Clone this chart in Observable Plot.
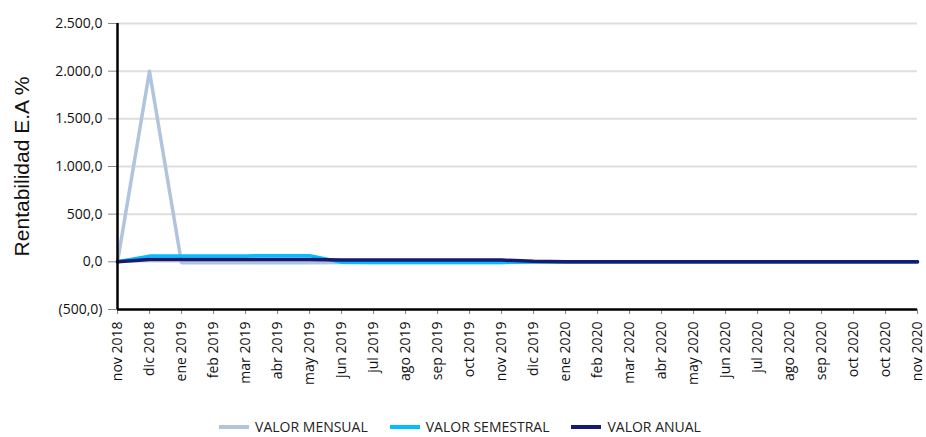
<!DOCTYPE html>
<html>
<head>
<meta charset="utf-8">
<script src="https://cdn.jsdelivr.net/npm/d3@7"></script>
<script src="https://cdn.jsdelivr.net/npm/@observablehq/plot@0.6"></script>
<style>
  body { margin: 0; background: #fff; font-family: "Open Sans", sans-serif; position: relative; width: 926px; height: 437px; }
  #legend { position: absolute; left: 0; width: 920px; top: 419px; display: flex; justify-content: center; gap: 22px; font-size: 14px; line-height: 16px; color: #222; }
  #legend .item { display: flex; align-items: center; gap: 6px; }
  #legend .sw { width: 30px; height: 4px; display: inline-block; }
</style>
</head>
<body>
<div id="chart"></div>
<div id="legend"></div>
<script>
const labels = ["nov 2018","dic 2018","ene 2019","feb 2019","mar 2019","abr 2019","may 2019","jun 2019","jul 2019","ago 2019","sep 2019","oct 2019","nov 2019","dic 2019","ene 2020","feb 2020","mar 2020","abr 2020","may 2020","jun 2020","jul 2020","ago 2020","sep 2020","oct 2020","oct 2020","nov 2020"];
const mensual   = [0, 2000, -10, -10, -10, -10, -10, -6, -6, -6, -6, -6, -6, -4, -3, -3, -3, -3, -3, -3, -3, -3, -3, -3, -3, -3];
const semestral = [0, 60, 62, 62, 62, 64, 65, -5, -6, -6, -6, -6, -6, -3, -2, -2, -2, -2, -2, -2, -2, -2, -2, -2, -2, -2];
const anual     = [0, 25, 25, 25, 25, 25, 25, 20, 20, 20, 20, 20, 18, 5, 0, 0, 0, 0, 0, 0, 0, 0, 0, 0, 0, 0];
const yTicks = [-500, 0, 500, 1000, 1500, 2000, 2500];
const seriesNames = ["VALOR MENSUAL", "VALOR SEMESTRAL", "VALOR ANUAL"];
const seriesColors = ["#b0c4de", "#00bfff", "#191970"];

const loc = d3.formatLocale({decimal: ",", thousands: ".", grouping: [3], currency: ["", ""]});
const f = loc.format(",.1f");
const yFmt = d => d < 0 ? `(${f(-d)})` : f(d);

const idx = d3.range(labels.length);
const seriesData = [mensual, semestral, anual];

const plot = Plot.plot({
  width: 926,
  height: 410,
  marginLeft: 117,
  marginRight: 9,
  marginTop: 23,
  marginBottom: 101,
  style: {fontFamily: "'Open Sans', sans-serif", fontSize: "14px", color: "#111", background: "#fff"},
  x: {type: "point", domain: idx, padding: 0},
  y: {domain: [-500, 2500]},
  marks: [
    Plot.ruleY(yTicks.filter(t => t > -500), {stroke: "#dedede", strokeWidth: 2}),
    Plot.axisY({ticks: yTicks, tickFormat: yFmt, tickSize: 9, tickPadding: 6, stroke: "#888", label: null, fontSize: 14}),
    Plot.axisX({tickFormat: i => labels[i], tickRotate: -90, tickSize: 5, tickPadding: 7, stroke: "#888", label: null, fontSize: 14}),
    ...seriesData.map((vals, k) => Plot.lineY(vals, {x: (d, i) => i, y: d => d, stroke: seriesColors[k], strokeWidth: 3.5})),
    Plot.ruleX([0], {stroke: "#000", strokeWidth: 2.5}),
    Plot.ruleY([-500], {stroke: "#000", strokeWidth: 2.5}),
    Plot.text(["Rentabilidad E.A %"], {frameAnchor: "left", dx: -95, rotate: -90, textAnchor: "middle", lineAnchor: "middle", fontSize: 21, fontFamily: "'Liberation Sans', Arial, sans-serif", fill: "#111"})
  ]
});
document.getElementById("chart").appendChild(plot);

const legend = document.getElementById("legend");
seriesNames.forEach((name, k) => {
  const item = document.createElement("div");
  item.className = "item";
  const sw = document.createElement("span");
  sw.className = "sw";
  sw.style.background = seriesColors[k];
  const t = document.createElement("span");
  t.textContent = name;
  item.appendChild(sw);
  item.appendChild(t);
  legend.appendChild(item);
});
</script>
</body>
</html>
